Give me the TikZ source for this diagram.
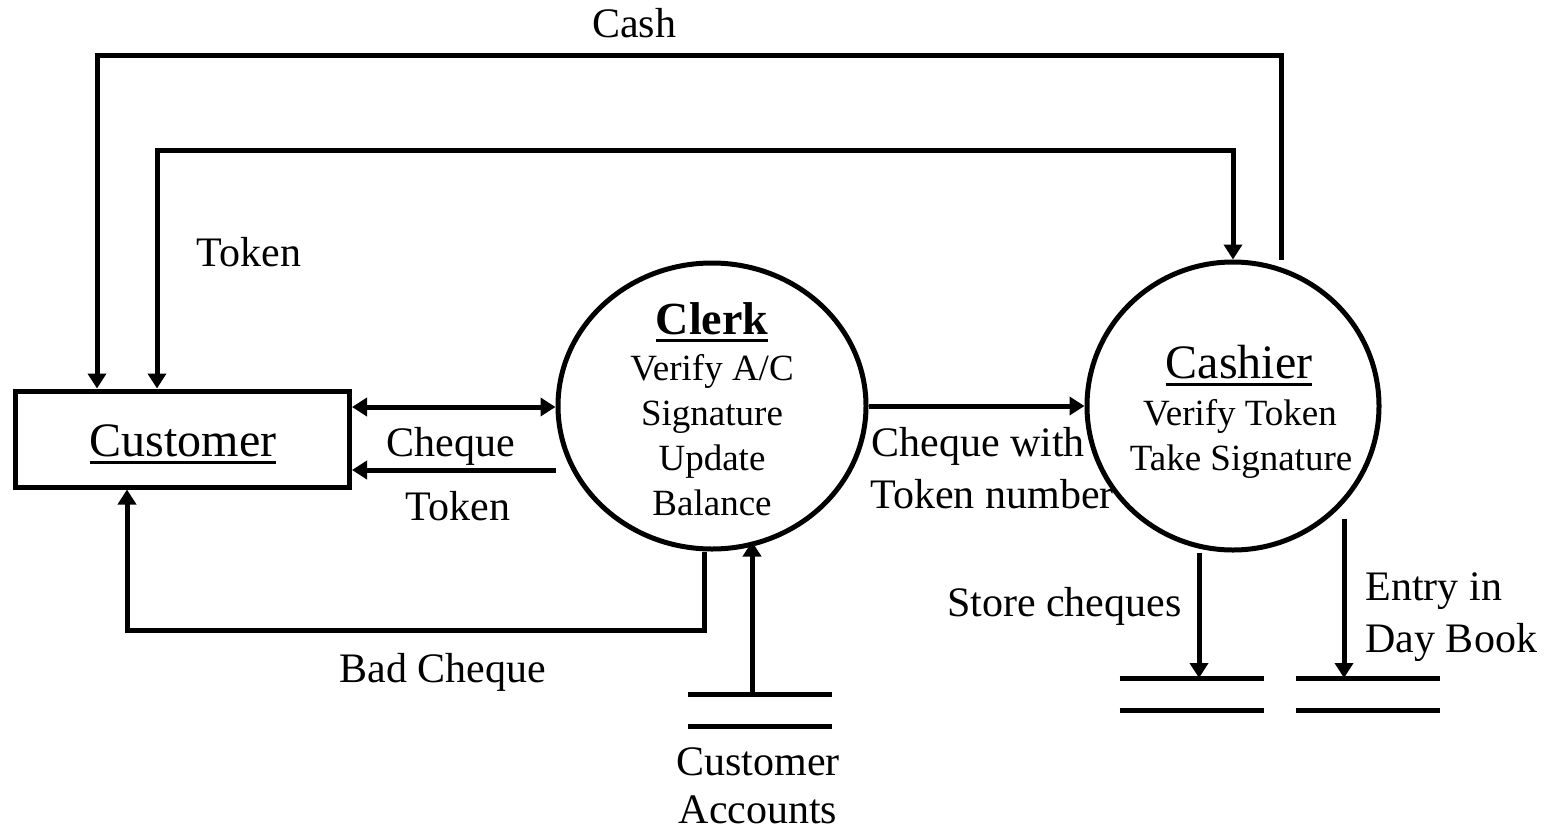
\documentclass[tikz,border=0pt]{standalone}
\usepackage{fontspec}
\setmainfont{Liberation Serif}
\usetikzlibrary{arrows.meta,shapes.geometric}
% underlined word with a heavy rule
\newcommand{\ulword}[1]{\setbox0=\hbox{#1}\rlap{\rule[-8pt]{\wd0}{3.5pt}}\box0}
\begin{document}
\begin{tikzpicture}[x=1pt,y=-1pt,
  line width=5pt,
  arr/.style={-{Triangle[length=15pt,width=18pt]}},
  biarr/.style={{Triangle[length=15pt,width=18pt]}-{Triangle[length=15pt,width=18pt]}},
  entity/.style={draw,rectangle,minimum width=334pt,minimum height=96pt,inner sep=0pt},
  process/.style={draw,ellipse,inner sep=0pt},
  store/.style={rectangle,minimum width=144pt,minimum height=32pt,inner sep=0pt,outer sep=0pt,
    append after command={(\tikzlastnode.north west) edge[-] (\tikzlastnode.north east)
                          (\tikzlastnode.south west) edge[-] (\tikzlastnode.south east)}},
  lbl/.style={font=\fontsize{42}{50}\selectfont,inner sep=0pt,anchor=base},
  body/.style={font=\fontsize{37}{45}\selectfont,inner sep=0pt,anchor=base},
  title/.style={font=\fontsize{48}{56}\selectfont,inner sep=0pt,anchor=base}]
\useasboundingbox (0,0) rectangle (1552,833);

% entities, processes and stores
\node[entity] (cust) at (182.5,439) {};
\node[process,minimum width=308pt,minimum height=286pt] (clerk) at (712,406) {};
\node[process,minimum width=292pt,minimum height=288pt] (cashier) at (1233,406) {};
\node[store] (acc) at (760,710) {};
\node[store] (cheqstore) at (1191.5,694) {};
\node[store] (daybook) at (1367.5,694) {};

% texts inside shapes
\node[title] (custname) at (183,456) {\ulword{Customer}};
\node[font=\fontsize{46}{54}\selectfont\bfseries,inner sep=0pt,anchor=base] (clerkname) at (712,334) {\ulword{Clerk}};
\node[body] (clerk1) at (712,380) {Verify A/C};
\node[body] (clerk2) at (712,425) {Signature};
\node[body] (clerk3) at (712,470) {Update};
\node[body] (clerk4) at (712,515) {Balance};
\node[title] (cashname) at (1239,378) {\ulword{Cashier}};
\node[body] (cash1) at (1240,425) {Verify Token};
\node[body] (cash2) at (1241,470) {Take Signature};

% rails and free ends
\coordinate (cashrail) at (0,55);
\coordinate (tokrail) at (0,150);
\coordinate (badrail) at (0,630);
\coordinate (cashin) at ([xshift=-85.5pt]cust.north);
\coordinate (cashout) at ([xshift=48pt]cashier.north);
\coordinate (tokin) at ([xshift=-25.5pt]cust.north);
\coordinate (badin) at ([xshift=-55.5pt]cust.south);
\coordinate (badout) at ([xshift=-8pt]clerk.south);
\coordinate (dayout) at (1344,519);

% flows
\draw[arr] (cashout) |- (cashin |- cashrail) -- (cashin);
\draw[biarr] (tokin) |- (cashier.north |- tokrail) -- (cashier.north);
\draw[biarr] ([yshift=32pt]cust.east) -- ([yshift=32pt]cust.east -| clerk.west);
\draw[arr] ([yshift=-31pt]cust.east -| clerk.west) -- ([yshift=-31pt]cust.east);
\draw[arr] (badout) |- (badin |- badrail) -- (badin);
\draw[arr] ([xshift=-8pt]acc.north) -- ([xshift=40pt,yshift=10pt]clerk.south);
\draw[arr] (clerk.east) -- (cashier.west);
\draw[arr] ([xshift=-34pt]cashier.south) -- ([xshift=-34pt]cashier.south |- cheqstore.north);
\draw[arr] (dayout) -- (dayout |- daybook.north);

% flow labels
\node[lbl] (lcash) at (634,37) {Cash};
\node[lbl] (ltoken) at (249,266) {Token};
\node[lbl] (lcheque) at (451,456) {Cheque};
\node[lbl] (ltoken2) at (458,520) {Token};
\node[lbl] (lbad) at (443,682) {Bad Cheque};
\node[lbl,anchor=base west] (lcw1) at (869,456) {Cheque with};
\node[lbl,anchor=base west] (lcw2) at (868,508) {Token number};
\node[lbl,anchor=base east] (lstore) at (1184,616) {Store cheques};
\node[lbl,anchor=base west] (lentry1) at (1363,600) {Entry in};
\node[lbl,anchor=base west] (lentry2) at (1363,652) {Day Book};
\node[lbl] (lacc1) at (758,775) {Customer};
\node[lbl] (lacc2) at (758,823) {Accounts};
\end{tikzpicture}
\end{document}
